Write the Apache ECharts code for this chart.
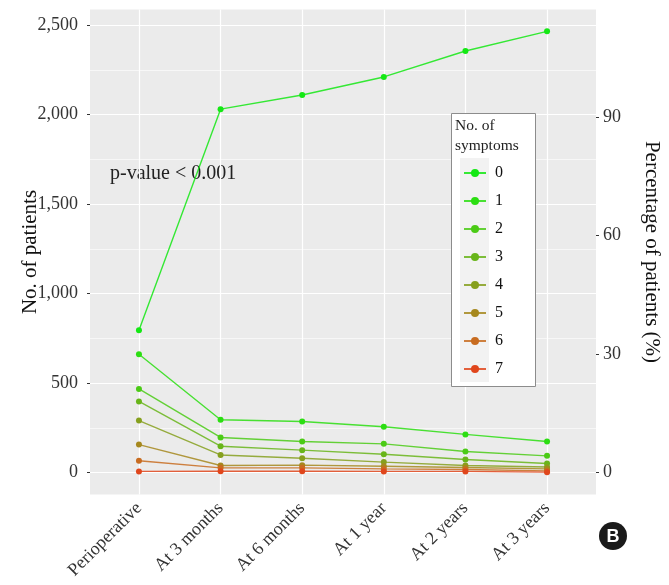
<!DOCTYPE html>
<html>
<head>
<meta charset="utf-8">
<script src="https://cdn.jsdelivr.net/npm/echarts@6/dist/echarts.min.js"></script>
<style>
  html, body { margin: 0; padding: 0; background: #fff; }
  #chart { width: 669px; height: 585px; }
</style>
</head>
<body>
<div id="chart"></div>
<script>
// time points on the x axis
var categories = ['Perioperative', 'At 3 months', 'At 6 months', 'At 1 year', 'At 2 years', 'At 3 years']
// number of patients by number of symptoms (0 .. 7)
var sym0 = [795, 2031, 2110, 2211, 2356, 2466]
var sym1 = [661, 295, 285, 256, 213, 173]
var sym2 = [467, 196, 173, 160, 117, 93]
var sym3 = [397, 147, 125, 102, 73, 50]
var sym4 = [290, 98, 80, 58, 39, 31]
var sym5 = [156, 39, 41, 35, 28, 20]
var sym6 = [66, 26, 26, 20, 17, 9]
var sym7 = [6, 7, 7, 6, 6, 2]
var seriesNames = ['0', '1', '2', '3', '4', '5', '6', '7']
var seriesData = [sym0, sym1, sym2, sym3, sym4, sym5, sym6, sym7]
// tick labels
var leftTicks = [0, 500, 1000, 1500, 2000, 2500]
var minorTicks = [250, 750, 1250, 1750, 2250]
var rightTicks = [0, 30, 60, 90]

var colors = ['#14e814', '#2cde12', '#4bcb16', '#68b51a', '#86a01e', '#a6881e', '#c86c20', '#e0461c']
var font = 'Liberation Serif'
var yMin = -123
var yMax = 2588
var perPct = 22.07 // patients per 1 %

var chart = echarts.init(document.getElementById('chart'))

var series = seriesData.map(function (vals, i) {
  return {
    name: seriesNames[i],
    type: 'line',
    z: 2,
    data: vals.map(function (v, j) { return [j + 1, v] }),
    symbol: 'circle',
    symbolSize: 6,
    color: colors[i],
    lineStyle: { width: 1.4, opacity: 0.85 },
    emphasis: { disabled: true },
    animation: false
  }
})

// background grid lines
var gridLines = []
leftTicks.forEach(function (v) { gridLines.push({ yAxis: v, lineStyle: { width: 1.2 } }) })
minorTicks.forEach(function (v) { gridLines.push({ yAxis: v, lineStyle: { width: 0.6 } }) })
categories.forEach(function (c, i) { gridLines.push({ xAxis: i + 1, lineStyle: { width: 1.2 } }) })
series.unshift({
  type: 'line',
  data: [],
  silent: true,
  markLine: {
    silent: true,
    z: 1,
    symbol: 'none',
    label: { show: false },
    lineStyle: { color: '#ffffff', type: 'solid' },
    animation: false,
    data: gridLines
  }
})

chart.setOption({
  animation: false,
  textStyle: { fontFamily: font },
  grid: {
    left: 90,
    right: 73,
    top: 9.5,
    bottom: 90.5,
    outerBoundsMode: 'none',
    show: true,
    backgroundColor: '#ebebeb',
    borderWidth: 0
  },
  xAxis: {
    type: 'value',
    min: 0.4,
    max: 6.6,
    splitLine: { show: false },
    axisLine: { show: false },
    axisTick: { show: true, length: 3, customValues: [1, 2, 3, 4, 5, 6], lineStyle: { color: '#333' } },
    axisLabel: {
      customValues: [1, 2, 3, 4, 5, 6],
      rotate: 45,
      margin: 11,
      fontSize: 18,
      fontFamily: font,
      color: '#333',
      formatter: function (v) { return categories[Math.round(v) - 1] }
    }
  },
  yAxis: [
    {
      type: 'value',
      min: yMin,
      max: yMax,
      name: 'No. of patients',
      nameLocation: 'middle',
      nameGap: 49,
      nameMoveOverlap: false,
      nameTextStyle: { fontSize: 21, fontFamily: font, color: '#111' },
      splitLine: { show: false },
      axisLine: { show: false },
      axisTick: { show: true, length: 3, customValues: leftTicks, lineStyle: { color: '#333' } },
      axisLabel: {
        customValues: leftTicks,
        margin: 12,
        fontSize: 18,
        fontFamily: font,
        color: '#333',
        formatter: function (v) { return v.toLocaleString('en-US') }
      }
    },
    {
      type: 'value',
      position: 'right',
      min: yMin / perPct,
      max: yMax / perPct,
      name: 'Percentage of patients (%)',
      nameLocation: 'middle',
      nameRotate: -90,
      nameGap: 45,
      nameMoveOverlap: false,
      nameTextStyle: { fontSize: 21, fontFamily: font, color: '#111' },
      splitLine: { show: false },
      axisLine: { show: false },
      axisTick: { show: true, length: 3, customValues: rightTicks, lineStyle: { color: '#333' } },
      axisLabel: {
        customValues: rightTicks,
        margin: 7,
        fontSize: 18,
        fontFamily: font,
        color: '#333'
      }
    }
  ],
  legend: {
    orient: 'vertical',
    left: 463,
    top: 165,
    padding: 0,
    itemWidth: 22,
    itemHeight: 10,
    itemGap: 12,
    z: 5,
    data: seriesNames,
    textStyle: { fontSize: 16, fontFamily: font, color: '#111', padding: [0, 0, 0, 4] }
  },
  graphic: [
    {
      type: 'text',
      left: 110,
      top: 164,
      z: 1,
      style: { text: 'p-value < 0.001', fontSize: 20, fontFamily: font, fill: '#222' }
    },
    {
      type: 'rect',
      z: 3,
      shape: { x: 451.5, y: 113.5, width: 84, height: 273 },
      style: { fill: '#fff', stroke: '#8c8c8c', lineWidth: 1 }
    },
    {
      type: 'rect',
      z: 3,
      shape: { x: 460, y: 158, width: 29, height: 224 },
      style: { fill: '#f2f2f2' }
    },
    {
      type: 'text',
      left: 455,
      top: 116,
      z: 4,
      style: { text: 'No. of\nsymptoms', fontSize: 15.5, lineHeight: 20, fontFamily: font, fill: '#222' }
    },
    {
      type: 'circle',
      z: 4,
      shape: { cx: 613, cy: 536, r: 14 },
      style: { fill: '#1a1a1a' }
    },
    {
      type: 'text',
      z: 5,
      x: 613,
      y: 537,
      style: { text: 'B', fontSize: 18, fontWeight: 'bold', fontFamily: 'Liberation Sans', fill: '#fff', align: 'center', verticalAlign: 'middle' }
    }
  ],
  series: series
})
</script>
</body>
</html>
